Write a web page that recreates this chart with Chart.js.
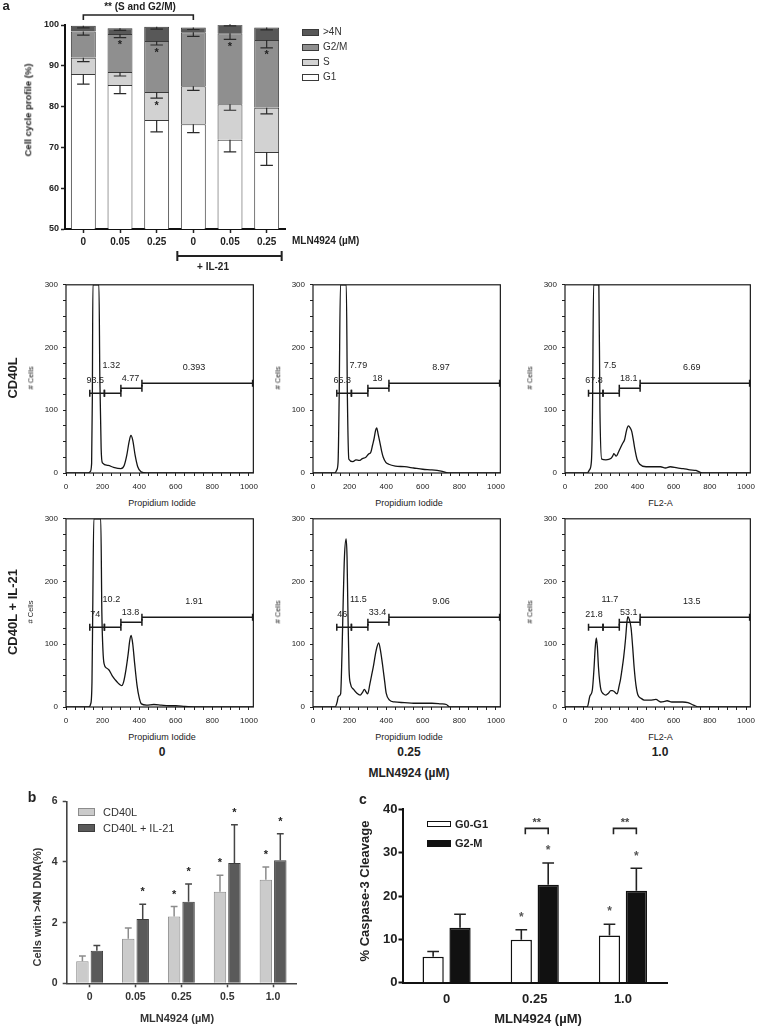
<!DOCTYPE html>
<html>
<head>
<meta charset="utf-8">
<script src="https://cdn.jsdelivr.net/npm/chart.js@4.4.1/dist/chart.umd.min.js"></script>
<style>
  html, body { margin:0; padding:0; background:#fff; }
  body { width:761px; height:1026px; position:relative; overflow:hidden; font-family:"Liberation Sans", Arial, sans-serif; color:#222; }
  canvas { position:absolute; }
  .t { position:absolute; white-space:nowrap; line-height:1; transform:translate(-50%,-50%); }
  .t.l { transform:translate(0,-50%); }
  .t.rot { transform:translate(-50%,-50%) rotate(-90deg); }
  .sw { position:absolute; box-sizing:border-box; }
</style>
</head>
<body>
<script>
// ---- panel a: cell cycle profile (stacked, %) ----
const aDoses = ['0', '0.05', '0.25', '0', '0.05', '0.25'];
const aG1 = [88.0, 85.3, 76.7, 75.7, 71.9, 68.9];
const aS = [4.0, 3.2, 6.9, 9.3, 8.7, 10.8];
const aG2M = [6.4, 9.3, 12.5, 13.2, 17.4, 16.6];
const a4N = [1.4, 1.4, 3.5, 1.2, 2.2, 3.1];
const aG1Err = [2.5, 2.1, 2.9, 2.1, 3.0, 3.3];
const aSErr = [1.0, 1.0, 1.5, 1.0, 1.5, 1.5];
const aG2MErr = [0.9, 0.9, 1.0, 1.0, 1.5, 1.9];
const a4NErr = [0.5, 0.5, 0.6, 0.5, 0.4, 0.6];
const aSStar = [0, 0, 1, 0, 0, 0];
const aG2MStar = [0, 1, 1, 0, 1, 1];

// ---- flow histograms (PI fluorescence, # cells) ----
const histCD40L_0 = [[0,0],[120,0],[132,2],[140,15],[144,120],[147,300],[180,300],[185,150],[192,40],[199,16],[230,12],[260,9],[300,7],[318,12],[332,28],[345,50],[355,60],[365,52],[378,28],[392,10],[410,2],[440,0],[1024,0]];
const histCD40L_025 = [[0,0],[119,0],[130,5],[137,17],[143,120],[150,300],[182,300],[188,120],[196,22],[218,18],[235,21],[253,20],[270,23],[289,25],[303,30],[316,33],[326,45],[334,55],[342,68],[348,72],[356,62],[366,48],[375,35],[384,25],[398,17],[414,14],[450,11],[500,10],[550,8],[600,6],[650,5],[700,3],[740,0],[1024,0]];
const histCD40L_1 = [[0,0],[123,0],[135,5],[146,19],[152,100],[158,300],[187,300],[193,100],[203,22],[226,21],[253,23],[265,28],[270,31],[283,27],[295,33],[306,40],[318,47],[329,53],[340,68],[350,75],[360,72],[369,66],[378,52],[386,38],[398,22],[413,14],[448,10],[490,10],[528,10],[555,8],[581,10],[620,8],[653,7],[690,5],[724,4],[759,0],[1024,0]];
const histIL21_0 = [[0,0],[124,0],[135,5],[142,40],[146,150],[152,300],[190,300],[196,150],[202,90],[208,69],[222,62],[235,59],[252,50],[270,43],[285,38],[297,35],[305,34],[315,40],[328,60],[340,85],[348,105],[356,114],[365,100],[375,70],[388,35],[400,15],[412,5],[440,3],[480,4],[520,3],[560,2],[600,2],[650,1],[715,0],[1024,0]];
const histIL21_025 = [[0,0],[121,0],[132,8],[139,17],[151,21],[158,80],[165,168],[172,240],[181,268],[186,240],[190,168],[197,60],[205,37],[222,28],[240,22],[258,19],[270,23],[281,28],[290,24],[299,21],[311,37],[320,50],[329,63],[345,90],[359,102],[370,88],[382,63],[392,40],[400,22],[418,11],[445,8],[500,7],[550,6],[600,6],[650,6],[700,5],[729,4],[747,0],[1024,0]];
const histIL21_1 = [[0,0],[123,0],[137,17],[151,27],[160,60],[167,95],[173,110],[179,95],[185,63],[192,40],[199,27],[212,21],[226,19],[240,22],[253,26],[262,26],[270,25],[288,21],[300,35],[306,43],[315,60],[324,79],[335,110],[342,135],[347,144],[355,140],[365,126],[374,95],[382,63],[392,35],[403,19],[420,14],[438,11],[470,11],[502,12],[529,8],[550,9],[564,10],[590,8],[617,8],[650,8],[679,7],[710,3],[741,0],[1024,0]];
// gate [from, to, level] : G1, S, G2/M, >4N
const gates = [[130, 210, 127], [210, 300, 127], [300, 415, 135], [415, 1020, 143]];
const gateLabelPos = [[160, 148], [248, 172], [352, 150], [700, 168]];
const pctCD40L_0 = ['93.5', '1.32', '4.77', '0.393'];
const pctCD40L_025 = ['65.3', '7.79', '18', '8.97'];
const pctCD40L_1 = ['67.8', '7.5', '18.1', '6.69'];
const pctIL21_0 = ['74', '10.2', '13.8', '1.91'];
const pctIL21_025 = ['46', '11.5', '33.4', '9.06'];
const pctIL21_1 = ['21.8', '11.7', '53.1', '13.5'];

// ---- panel b: >4N DNA ----
const bDoses = ['0', '0.05', '0.25', '0.5', '1.0'];
const bCD40L = [0.73, 1.47, 2.2, 3.02, 3.41];
const bCD40LErr = [0.17, 0.35, 0.33, 0.54, 0.42];
const bIL21 = [1.07, 2.12, 2.69, 3.97, 4.06];
const bIL21Err = [0.18, 0.49, 0.58, 1.26, 0.87];
const bCD40LStar = [0, 0, 1, 1, 1];
const bIL21Star = [0, 1, 1, 1, 1];

// ---- panel c: caspase-3 cleavage ----
const cDoses = ['0', '0.25', '1.0'];
const cG0G1 = [6.0, 9.9, 10.9];
const cG0G1Err = [1.2, 2.3, 2.6];
const cG2M = [12.7, 22.6, 21.2];
const cG2MErr = [3.1, 5.0, 5.2];
const cG0G1Star = [0, 1, 1];
const cG2MStar = [0, 1, 1];
const cPairSig = ['', '**', '**'];
const cBracketLevel = 35.6;

const FONT = '"Liberation Sans", Arial, sans-serif';
Chart.defaults.font.family = FONT;
Chart.defaults.color = '#222';
Chart.defaults.animation = false;
Chart.defaults.responsive = false;
Chart.defaults.devicePixelRatio = 1;
Chart.defaults.plugins.legend.display = false;
Chart.defaults.plugins.tooltip.enabled = false;

function makeCanvas(left, top, w, h) {
  const c = document.createElement('canvas');
  c.width = w; c.height = h;
  c.style.left = left + 'px'; c.style.top = top + 'px';
  c.style.width = w + 'px'; c.style.height = h + 'px';
  document.body.appendChild(c);
  return c;
}

function txt(s, x, y, size, opt = {}) {
  const d = document.createElement('div');
  d.className = 't' + (opt.rot ? ' rot' : '') + (opt.left ? ' l' : '');
  d.textContent = s;
  d.style.left = x + 'px'; d.style.top = y + 'px';
  d.style.fontSize = size + 'px';
  if (opt.bold) d.style.fontWeight = 'bold';
  if (opt.color) d.style.color = opt.color;
  document.body.appendChild(d);
}

function swatch(x, y, w, h, fill, stroke, bw) {
  const d = document.createElement('div');
  d.className = 'sw';
  Object.assign(d.style, { left: x + 'px', top: y + 'px', width: w + 'px', height: h + 'px',
    background: fill, border: bw + 'px solid ' + stroke });
  document.body.appendChild(d);
}

// error bars (one-sided) + significance stars, read from dataset.err / dataset.stars
const errorBars = {
  id: 'errorBars',
  afterDatasetsDraw(chart) {
    const ctx = chart.ctx, y = chart.scales.y;
    chart.data.datasets.forEach((ds, d) => {
      if (!ds.err) return;
      const dir = ds.errDir === 'down' ? -1 : 1;
      chart.getDatasetMeta(d).data.forEach((bar, i) => {
        const top = y.getValueForPixel(bar.y);
        const end = y.getPixelForValue(top + dir * ds.err[i]);
        const cap = bar.width * ds.capFrac;
        ctx.save();
        ctx.strokeStyle = ds.errColor;
        ctx.lineWidth = ds.errWidth;
        ctx.beginPath();
        ctx.moveTo(bar.x, bar.y); ctx.lineTo(bar.x, end);
        ctx.moveTo(bar.x - cap / 2, end); ctx.lineTo(bar.x + cap / 2, end);
        ctx.stroke();
        if (ds.stars && ds.stars[i]) {
          ctx.fillStyle = ds.starColor;
          ctx.font = ds.starFont;
          ctx.textAlign = 'center';
          ctx.textBaseline = 'middle';
          ctx.fillText('*', bar.x, end - dir * ds.starGap);
        }
        ctx.restore();
      });
    });
  }
};

// ---------------- panel a ----------------
const aBrackets = {
  id: 'aBrackets',
  afterDraw(chart) {
    const { ctx, chartArea: ar, scales: { x } } = chart;
    ctx.save();
    ctx.strokeStyle = '#222'; ctx.lineWidth = 1.6;
    const x1 = x.getPixelForTick(0), x2 = x.getPixelForTick(3);
    ctx.beginPath();
    ctx.moveTo(x1, ar.top - 5); ctx.lineTo(x1, ar.top - 10);
    ctx.lineTo(x2, ar.top - 10); ctx.lineTo(x2, ar.top - 5);
    ctx.stroke();
    const l = x.getPixelForTick(3) - 16, r = x.getPixelForTick(5) + 15, yy = ar.bottom + 27;
    ctx.lineWidth = 2;
    ctx.beginPath();
    ctx.moveTo(l, yy); ctx.lineTo(r, yy);
    ctx.moveTo(l, yy - 5); ctx.lineTo(l, yy + 5);
    ctx.moveTo(r, yy - 5); ctx.lineTo(r, yy + 5);
    ctx.stroke();
    ctx.restore();
  }
};

const aStyle = { borderColor: '#3a3a3a', borderWidth: 1, barPercentage: 0.68, categoryPercentage: 1,
  errDir: 'down', errColor: '#2a2a2a', errWidth: 1.2, capFrac: 0.5, starGap: 7.5,
  starColor: '#222', starFont: 'bold 11px ' + FONT };

new Chart(makeCanvas(0, 0, 300, 262), {
  type: 'bar',
  data: {
    labels: aDoses,
    datasets: [
      { label: 'G1', data: aG1, backgroundColor: '#ffffff', err: aG1Err, ...aStyle },
      { label: 'S', data: aS, backgroundColor: '#d2d2d2', err: aSErr, stars: aSStar, ...aStyle },
      { label: 'G2/M', data: aG2M, backgroundColor: '#8f8f8f', err: aG2MErr, stars: aG2MStar, ...aStyle },
      { label: '>4N', data: a4N, backgroundColor: '#585858', err: a4NErr, ...aStyle },
    ]
  },
  options: {
    layout: { padding: { top: 25, right: 15, left: 0, bottom: 0 } },
    scales: {
      x: { stacked: true, afterFit: s => { s.height = 33; },
        grid: { drawOnChartArea: false, offset: false, tickLength: 4, tickWidth: 1.5, color: '#222' },
        border: { color: '#111', width: 2 },
        ticks: { font: { size: 10, weight: 'bold' }, padding: 3, color: '#222' } },
      y: { stacked: true, min: 50, max: 100, afterFit: s => { s.width = 65; },
        grid: { drawOnChartArea: false, tickLength: 4, tickWidth: 1.5, color: '#222' },
        border: { color: '#111', width: 2 },
        ticks: { stepSize: 10, font: { size: 9, weight: 'bold' }, padding: 2, color: '#222' } }
    }
  },
  plugins: [errorBars, aBrackets]
});

txt('a', 6, 5, 13, { bold: true });
txt('** (S and G2/M)', 140, 7, 10, { bold: true });
txt('Cell cycle profile (%)', 28, 110, 9.5, { bold: true, rot: true });
txt('MLN4924 (µM)', 292, 241, 10, { bold: true, left: true });
txt('+ IL-21', 213, 267, 10, { bold: true });
[['>4N', '#585858'], ['G2/M', '#8f8f8f'], ['S', '#d2d2d2'], ['G1', '#ffffff']].forEach(([name, col], k) => {
  swatch(302, 28.5 + k * 15, 17, 7, col, '#3a3a3a', 1);
  txt(name, 323, 32 + k * 15, 10, { left: true, color: '#333' });
});

// ---------------- flow histograms ----------------
const histDecor = {
  id: 'histDecor',
  afterDraw(chart) {
    const { ctx, chartArea: ar, scales: { x, y } } = chart;
    const pct = chart.options.plugins.histDecor.pct;
    ctx.save();
    ctx.strokeStyle = '#1a1a1a'; ctx.lineWidth = 1.2;
    ctx.strokeRect(ar.left, ar.top, ar.right - ar.left, ar.bottom - ar.top);
    ctx.lineWidth = 1.5;
    gates.forEach(([g1, g2, lvl]) => {
      const x1 = x.getPixelForValue(g1), x2 = x.getPixelForValue(g2), yy = y.getPixelForValue(lvl);
      ctx.beginPath();
      ctx.moveTo(x1, yy); ctx.lineTo(x2, yy);
      ctx.moveTo(x1, yy - 3.5); ctx.lineTo(x1, yy + 3.5);
      ctx.moveTo(x2, yy - 3.5); ctx.lineTo(x2, yy + 3.5);
      ctx.stroke();
    });
    ctx.fillStyle = '#222';
    ctx.font = '9px ' + FONT;
    ctx.textAlign = 'center'; ctx.textBaseline = 'middle';
    pct.forEach((t, k) => ctx.fillText(t, x.getPixelForValue(gateLabelPos[k][0]), y.getPixelForValue(gateLabelPos[k][1])));
    ctx.restore();
  }
};

function histChart(pts, pct, left, top, xTitle) {
  const padR = left > 500 ? 4 : 6;
  new Chart(makeCanvas(left - 40, top - 8, 232 + padR, 220), {
    type: 'line',
    data: { datasets: [{ data: pts.map(([x, y]) => ({ x, y })), borderColor: '#151515', borderWidth: 1.3,
      pointRadius: 0, cubicInterpolationMode: 'monotone', fill: false }] },
    options: {
      layout: { padding: { top: 8, right: padR, left: 0, bottom: 0 } },
      scales: {
        x: { type: 'linear', min: 0, max: 1024, afterFit: s => { s.height = 22; },
          ticks: { stepSize: 50, autoSkip: false, includeBounds: false, maxRotation: 0, font: { size: 8 }, padding: 6,
            callback: v => (v % 200 === 0 ? v : '') },
          grid: { drawOnChartArea: false, tickLength: 3, color: '#222' }, border: { display: false } },
        y: { min: 0, max: 300, afterFit: s => { s.width = 40; },
          ticks: { stepSize: 25, autoSkip: false, includeBounds: false, font: { size: 8 }, padding: 5,
            callback: v => (v % 100 === 0 ? v : '') },
          grid: { drawOnChartArea: false, tickLength: 3, color: '#222' }, border: { display: false } }
      },
      plugins: { histDecor: { pct } }
    },
    plugins: [histDecor]
  });
  txt('# Cells', left - 35, top + 95, 7.5, { rot: true });
  txt(xTitle, left + 96, top + 220, 9);
}

histChart(histCD40L_0, pctCD40L_0, 66, 283.3, 'Propidium Iodide');
histChart(histCD40L_025, pctCD40L_025, 313, 283.3, 'Propidium Iodide');
histChart(histCD40L_1, pctCD40L_1, 564.5, 283.3, 'FL2-A');
histChart(histIL21_0, pctIL21_0, 66, 517, 'Propidium Iodide');
histChart(histIL21_025, pctIL21_025, 313, 517, 'Propidium Iodide');
histChart(histIL21_1, pctIL21_1, 564.5, 517, 'FL2-A');

txt('CD40L', 12, 378, 13, { bold: true, rot: true });
txt('CD40L + IL-21', 12, 612, 13, { bold: true, rot: true });
txt('0', 162, 752, 12, { bold: true });
txt('0.25', 409, 752, 12, { bold: true });
txt('1.0', 660, 752, 12, { bold: true });
txt('MLN4924 (µM)', 409, 773, 12, { bold: true });

// ---------------- panel b ----------------
const bStyle = { categoryPercentage: 0.63, barPercentage: 0.86, borderWidth: 1, errDir: 'up', errWidth: 1.5,
  capFrac: 0.55, starGap: 12, starColor: '#222', starFont: 'bold 11px ' + FONT };

new Chart(makeCanvas(0, 790, 300, 236), {
  type: 'bar',
  data: {
    labels: bDoses,
    datasets: [
      { label: 'CD40L', data: bCD40L, backgroundColor: '#cbcbcb', borderColor: '#8c8c8c', err: bCD40LErr,
        errColor: '#8c8c8c', stars: bCD40LStar, ...bStyle },
      { label: 'CD40L + IL-21', data: bIL21, backgroundColor: '#5a5a5a', borderColor: '#3c3c3c', err: bIL21Err,
        errColor: '#454545', stars: bIL21Star, ...bStyle },
    ]
  },
  options: {
    layout: { padding: { top: 10, right: 4, left: 0, bottom: 0 } },
    scales: {
      x: { afterFit: s => { s.height = 42.7; },
        grid: { drawOnChartArea: false, offset: false, tickLength: 4, tickWidth: 1.5, color: '#444' },
        border: { color: '#444', width: 1.6 },
        ticks: { font: { size: 10.5, weight: 'bold' }, padding: 4, color: '#333' } },
      y: { min: 0, max: 6, afterFit: s => { s.width = 66.7; },
        grid: { drawOnChartArea: false, tickLength: 4, tickWidth: 1.5, color: '#444' },
        border: { color: '#444', width: 1.6 },
        ticks: { stepSize: 2, font: { size: 10.5, weight: 'bold' }, padding: 5, color: '#333' } }
    }
  },
  plugins: [errorBars]
});

txt('b', 32, 797, 14, { bold: true });
txt('Cells with >4N DNA(%)', 37, 907, 11, { bold: true, rot: true, color: '#333' });
txt('MLN4924 (µM)', 177, 1018, 11, { bold: true, color: '#333' });
swatch(78, 808, 17, 8, '#cbcbcb', '#8c8c8c', 1);
txt('CD40L', 103, 812, 11, { left: true, color: '#333' });
swatch(78, 824, 17, 8, '#5a5a5a', '#3c3c3c', 1);
txt('CD40L + IL-21', 103, 828, 11, { left: true, color: '#333' });

// ---------------- panel c ----------------
const cBrackets = {
  id: 'cBrackets',
  afterDraw(chart) {
    const { ctx, scales: { y } } = chart;
    const m0 = chart.getDatasetMeta(0), m1 = chart.getDatasetMeta(1);
    ctx.save();
    ctx.strokeStyle = '#222'; ctx.lineWidth = 1.6;
    ctx.fillStyle = '#444'; ctx.font = 'bold 11px ' + FONT;
    ctx.textAlign = 'center'; ctx.textBaseline = 'middle';
    cPairSig.forEach((sig, i) => {
      if (!sig) return;
      const x1 = m0.data[i].x + 4, x2 = m1.data[i].x, yy = y.getPixelForValue(cBracketLevel);
      ctx.beginPath();
      ctx.moveTo(x1, yy + 6); ctx.lineTo(x1, yy); ctx.lineTo(x2, yy); ctx.lineTo(x2, yy + 6);
      ctx.stroke();
      ctx.fillText(sig, (x1 + x2) / 2, yy - 5);
    });
    ctx.restore();
  }
};

const cStyle = { categoryPercentage: 0.61, barPercentage: 0.79, borderWidth: 1.5, borderColor: '#111',
  errDir: 'up', errColor: '#222', errWidth: 1.6, capFrac: 0.55, starGap: 12,
  starColor: '#555', starFont: 'bold 12px ' + FONT };

new Chart(makeCanvas(340, 790, 340, 236), {
  type: 'bar',
  data: {
    labels: cDoses,
    datasets: [
      { label: 'G0-G1', data: cG0G1, backgroundColor: '#ffffff', err: cG0G1Err, stars: cG0G1Star, ...cStyle },
      { label: 'G2-M', data: cG2M, backgroundColor: '#111111', err: cG2MErr, stars: cG2MStar, ...cStyle },
    ]
  },
  options: {
    layout: { padding: { top: 19.3, right: 13, left: 0, bottom: 0 } },
    scales: {
      x: { afterFit: s => { s.height = 43.3; },
        grid: { display: false, drawTicks: false },
        border: { color: '#111', width: 2 },
        ticks: { font: { size: 13, weight: 'bold' }, padding: 9, color: '#222' } },
      y: { min: 0, max: 40, afterFit: s => { s.width = 62.5; },
        grid: { drawOnChartArea: false, tickLength: 4, tickWidth: 2, color: '#111' },
        border: { color: '#111', width: 2 },
        ticks: { stepSize: 10, font: { size: 13, weight: 'bold' }, padding: 1, color: '#222' } }
    }
  },
  plugins: [errorBars, cBrackets]
});

txt('c', 363, 799, 14, { bold: true });
txt('% Caspase-3 Cleavage', 364, 891, 13, { bold: true, rot: true });
txt('MLN4924 (µM)', 538, 1018, 13, { bold: true });
swatch(427, 820.5, 24, 6.5, '#ffffff', '#111', 1.5);
txt('G0-G1', 455, 823.5, 11, { bold: true, left: true });
swatch(427, 840, 24, 6.5, '#111111', '#111', 1.5);
txt('G2-M', 455, 843, 11, { bold: true, left: true });
</script>
</body>
</html>
